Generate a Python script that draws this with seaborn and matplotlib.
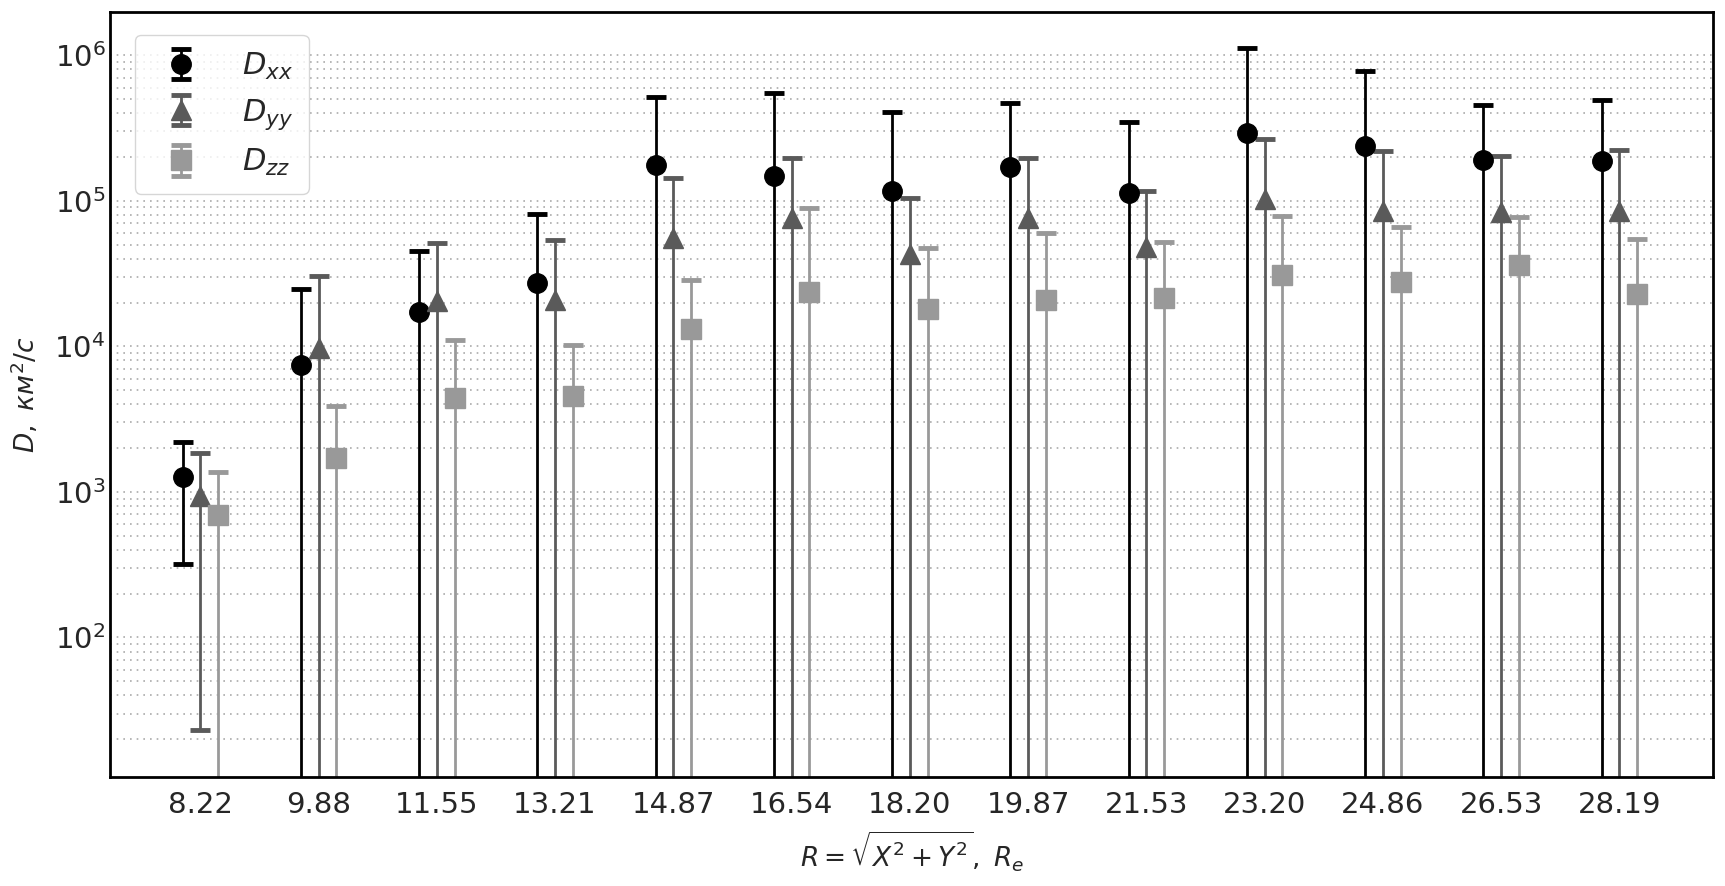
import numpy as np
import pandas as pd
import seaborn as sns
import matplotlib.pyplot as plt
from matplotlib.ticker import LogLocator, NullFormatter

# Datos
radios = ["8.22", "9.88", "11.55", "13.21", "14.87", "16.54", "18.20",
          "19.87", "21.53", "23.20", "24.86", "26.53", "28.19"]

d_xx = [1260, 7450, 17100, 27400, 176000, 148000, 116000,
        170000, 114000, 291000, 237000, 192000, 188000]
d_xx_err = [940, 17500, 28300, 53200, 341000, 405000, 289000,
            303000, 233000, 839000, 546000, 266000, 302000]

d_yy = [935, 9800, 20400, 20800, 55800, 76400, 43000,
        76400, 47800, 103000, 84700, 83300, 84700]
d_yy_err = [912, 20600, 30600, 32900, 87200, 119600, 62000,
            119600, 68200, 164000, 135300, 118700, 139300]

d_zz = [690, 1700, 4400, 4570, 13200, 23800, 18100,
        20700, 21500, 30900, 27900, 36200, 23000]
d_zz_err = [690, 2200, 6600, 5630, 15600, 65200, 29600,
            39100, 30600, 48100, 38600, 41400, 32000]

series = [
    (r"$D_{xx}$", d_xx, d_xx_err, "o", "#000000", -0.15),
    (r"$D_{yy}$", d_yy, d_yy_err, "^", "#5a5a5a", 0.0),
    (r"$D_{zz}$", d_zz, d_zz_err, "s", "#999999", 0.15),
]

sns.set_style("white")
plt.rcParams["font.family"] = ["DejaVu Sans"]
plt.rcParams["mathtext.fontset"] = "dejavusans"

fig, ax = plt.subplots(figsize=(17.25, 8.86), dpi=100)

x = np.arange(len(radios))
for label, vals, errs, mk, col, off in series:
    ax.errorbar(x + off, vals, yerr=errs, fmt=mk, color=col, ecolor=col,
                markersize=14, elinewidth=2, capsize=7, capthick=3.5,
                label=label)

ax.set_yscale("log")
ax.set_ylim(11, 1.97e6)
ax.set_xlim(-0.76, 12.79)
ax.set_xticks(x)
ax.set_xticklabels(radios)

ax.yaxis.set_major_locator(LogLocator(base=10, numticks=10))
ax.yaxis.set_minor_locator(LogLocator(base=10, subs=np.arange(2, 10), numticks=20))
ax.yaxis.set_minor_formatter(NullFormatter())

ax.grid(True, which="both", axis="y", linestyle=(0, (1, 3)),
        color="#aaaaaa", linewidth=1.2)
ax.tick_params(axis="x", length=0, labelsize=21, pad=10)
ax.tick_params(axis="y", which="major", direction="in", length=10,
               width=1.5, labelsize=21)
ax.tick_params(axis="y", which="minor", direction="in", length=6, width=1.2)

for sp in ax.spines.values():
    sp.set_linewidth(2)
    sp.set_color("black")

ax.set_xlabel(r"$R = \sqrt{X^2 + Y^2},\ R_e$", fontsize=19, labelpad=8)
ax.set_ylabel(r"$D,\ км^2/с$", fontsize=19, labelpad=10)

leg = ax.legend(loc="upper left", fontsize=22, frameon=True, fancybox=True,
                borderpad=0.5, handletextpad=1.0, labelspacing=0.5,
                bbox_to_anchor=(0.006, 0.99))
leg.get_frame().set_edgecolor("#cccccc")

fig.subplots_adjust(left=0.064, right=0.993, bottom=0.123, top=0.986)
fig.savefig("out.png", dpi=100)
